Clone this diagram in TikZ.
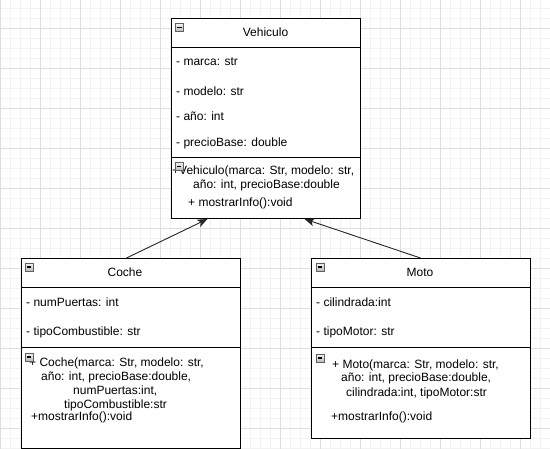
\documentclass[tikz,border=0pt]{standalone}
\usepackage{fontspec}
\setmainfont{Liberation Sans}
\usetikzlibrary{arrows.meta}
\tikzset{
  classbox/.style={draw=black, line width=1pt, fill=white, anchor=north west, inner sep=0pt},
  txt/.style={anchor=base west, inner sep=0pt, font=\fontsize{12}{14}\selectfont},
  hdr/.style={anchor=base, inner sep=0pt, font=\fontsize{12}{14}\selectfont},
  iconbox/.style={draw=gray!75!black, line width=0.6pt, top color=gray!10, bottom color=gray!55,
    minimum size=8pt, inner sep=0pt,
    path picture={\draw[black,line width=1.3pt] ([xshift=1.8pt]path picture bounding box.west) -- ([xshift=-1.8pt]path picture bounding box.east);}},
  sep/.style={line width=1pt, draw=black},
  inh/.style={-{Stealth[length=10pt,width=8pt,inset=2.5pt]}, line width=0.9pt, draw=black!85},
  minorgrid/.style={draw=black!5, line width=0.8pt},
  majorgrid/.style={draw=black!13, line width=0.8pt}
}
\begin{document}
\begin{tikzpicture}[x=1pt,y=-1pt]
\useasboundingbox[fill=white] (0,0) rectangle (550,449);
% grid
\foreach \gx in {10,20,...,550} {\draw[minorgrid] (\gx,0) -- (\gx,449);}
\foreach \gy in {8,18,...,448} {\draw[minorgrid] (0,\gy) -- (550,\gy);}
\foreach \gx in {0.5,40,80,...,520} {\draw[majorgrid] (\gx,0) -- (\gx,449);}
\foreach \gy in {28,68,...,428} {\draw[majorgrid] (0,\gy) -- (550,\gy);}

% ---------- Vehiculo ----------
\node[classbox, minimum width=189pt, minimum height=200pt] (veh) at (171,18) {};
\draw[sep] ([yshift=-30pt]veh.north west) -- ([yshift=-30pt]veh.north east);
\draw[sep] ([yshift=-140pt]veh.north west) -- ([yshift=-140pt]veh.north east);
\node[iconbox] (vehI1) at (179.5,27.5) {};
\node[hdr] (vehT) at (265.5,37) {Vehiculo};
\node[txt] (vehA1) at (176,66) {- marca: str};
\node[txt] (vehA2) at (176,96) {- modelo: str};
\node[txt] (vehA3) at (176,121) {- año: int};
\node[txt] (vehA4) at (176,147) {- precioBase: double};
\node[txt] (vehM1) at (172,175) {+Vehiculo(marca: Str, modelo: str,};
\node[iconbox] (vehI2) at (179,166.5) {};
\node[txt] (vehM2) at (193,189) {año: int, precioBase:double};
\node[txt] (vehM3) at (188,207) {+ mostrarInfo():void};

% ---------- Coche ----------
\node[classbox, minimum width=219pt, minimum height=190pt] (coche) at (21,258) {};
\draw[sep] ([yshift=-30pt]coche.north west) -- ([yshift=-30pt]coche.north east);
\draw[sep] ([yshift=-90pt]coche.north west) -- ([yshift=-90pt]coche.north east);
\node[iconbox] (cocheI1) at (29,267) {};
\node[hdr] (cocheT) at (125,277) {Coche};
\node[txt] (cocheA1) at (26,307) {- numPuertas: int};
\node[txt] (cocheA2) at (26,336) {- tipoCombustible: str};
\node[txt] (cocheM1) at (29,367) {+ Coche(marca: Str, modelo: str,};
\node[iconbox] (cocheI2) at (29,357) {};
\node[txt] (cocheM2) at (41,381) {año: int, precioBase:double,};
\node[txt] (cocheM3) at (73,395) {numPuertas:int,};
\node[txt] (cocheM4) at (64,409) {tipoCombustible:str};
\node[txt] (cocheM5) at (31,421) {+mostrarInfo():void};

% ---------- Moto ----------
\node[classbox, minimum width=219pt, minimum height=180pt] (moto) at (311,258) {};
\draw[sep] ([yshift=-30pt]moto.north west) -- ([yshift=-30pt]moto.north east);
\draw[sep] ([yshift=-90pt]moto.north west) -- ([yshift=-90pt]moto.north east);
\node[iconbox] (motoI1) at (320,267) {};
\node[hdr] (motoT) at (420,277) {Moto};
\node[txt] (motoA1) at (316,307) {- cilindrada:int};
\node[txt] (motoA2) at (316,336) {- tipoMotor: str};
\node[iconbox] (motoI2) at (320,358) {};
\node[txt] (motoM1) at (332,369) {+ Moto(marca: Str, modelo: str,};
\node[txt] (motoM2) at (341,382) {año: int, precioBase:double,};
\node[txt] (motoM3) at (346,397) {cilindrada:int, tipoMotor:str};
\node[txt] (motoM4) at (331,421) {+mostrarInfo():void};

% ---------- inheritance ----------
\draw[inh] ([xshift=-4.5pt]coche.north) -- ([xshift=-58.5pt]veh.south);
\draw[inh] ([xshift=-0.5pt]moto.north) -- ([xshift=38.5pt]veh.south);
\end{tikzpicture}
\end{document}
